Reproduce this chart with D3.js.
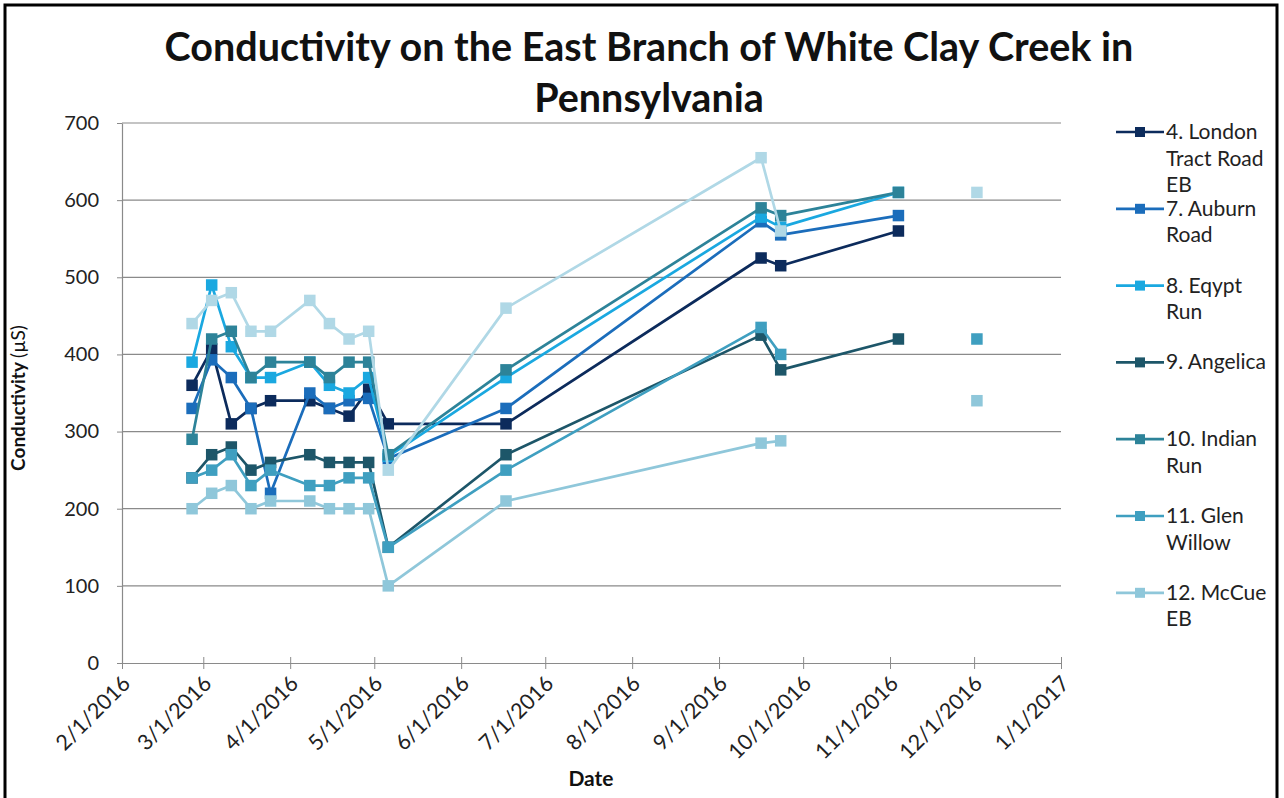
<!DOCTYPE html>
<html>
<head>
<meta charset="utf-8">
<script src="https://cdn.jsdelivr.net/npm/d3@7"></script>
<style>
  html, body { margin: 0; padding: 0; background: #fff; }
  svg { display: block; font-family: Lato, "Open Sans", sans-serif; }
</style>
</head>
<body>
<svg id="chart" width="1284" height="798"></svg>
<script>
// Sampling dates (weekly Fridays in spring, then a few later visits)
const sampleDates = ["2016-02-26", "2016-03-04", "2016-03-11", "2016-03-18", "2016-03-25",
  "2016-04-08", "2016-04-15", "2016-04-22", "2016-04-29", "2016-05-06",
  "2016-06-17", "2016-09-16", "2016-09-23", "2016-11-04", "2016-12-02"];

// Conductivity readings (µS) per site, null where the site was not sampled
const londonTract = [360, 407, 310, 330, 340, 340, 330, 320, 355, 310, 310, 525, 515, 560, null];
const auburnRoad  = [330, 393, 370, 330, 220, 350, 330, 340, 343, 265, 330, 572, 555, 580, null];
const egyptRun    = [390, 490, 410, 370, 370, 390, 360, 350, 370, 268, 370, 578, 565, 610, null];
const angelica    = [240, 270, 280, 250, 260, 270, 260, 260, 260, 150, 270, 425, 380, 420, null];
const indianRun   = [290, 420, 430, 370, 390, 390, 370, 390, 390, 270, 380, 590, 580, 610, null];
const glenWillow  = [240, 250, 270, 230, 250, 230, 230, 240, 240, 150, 250, 435, 400, null, 420];
const mccueEB     = [200, 220, 230, 200, 210, 210, 200, 200, 200, 100, 210, 285, 288, null, 340];
// eighth site: plotted, but the legend box has no room left for its entry
const eighthSite  = [440, 470, 480, 430, 430, 470, 440, 420, 430, 250, 460, 655, 560, null, 610];

const seriesValues = [londonTract, auburnRoad, egyptRun, angelica, indianRun, glenWillow, mccueEB, eighthSite];
const seriesColors = ["#0c2b5c", "#1b6dbb", "#1aa8e0", "#1d5669", "#2d8399", "#3f9fc0", "#8fc7da", "#b0d8e6"];

// Legend labels, wrapped the way the legend box wraps them
const legendLabels = [
  ["4. London", "Tract Road", "EB"],
  ["7. Auburn", "Road"],
  ["8. Eqypt", "Run"],
  ["9. Angelica"],
  ["10. Indian", "Run"],
  ["11. Glen", "Willow"],
  ["12. McCue", "EB"]
];

const yTicks = [0, 100, 200, 300, 400, 500, 600, 700];
const xTickDates = ["2016-02-01", "2016-03-01", "2016-04-01", "2016-05-01", "2016-06-01", "2016-07-01",
  "2016-08-01", "2016-09-01", "2016-10-01", "2016-11-01", "2016-12-01", "2017-01-01"];

const titleLines = ["Conductivity on the East Branch of White Clay Creek in", "Pennsylvania"];

const parse = d3.timeParse("%Y-%m-%d");
const fmt = d3.timeFormat("%-m/%-d/%Y");
const dates = sampleDates.map(parse);

const svg = d3.select("#chart");

// outer frame
svg.append("path")
  .attr("d", "M5,800 L5,5 L1277,5 L1277,800")
  .attr("fill", "none").attr("stroke", "#000").attr("stroke-width", 3);

const x = d3.scaleTime().domain([parse("2016-02-01"), parse("2017-01-01")]).range([122, 1061]);
const y = d3.scaleLinear().domain([0, 700]).range([663, 123]);

// horizontal gridlines
svg.append("g").selectAll("line").data(yTicks.filter(d => d > 0)).join("line")
  .attr("x1", x.range()[0]).attr("x2", x.range()[1])
  .attr("y1", d => y(d)).attr("y2", d => y(d))
  .attr("stroke", "#8a8a8a").attr("stroke-width", 1.2);

// y axis
const yAxis = svg.append("g").attr("transform", `translate(${x.range()[0]},0)`)
  .call(d3.axisLeft(y).tickValues(yTicks).tickSize(5).tickPadding(18).tickSizeOuter(0));
yAxis.select(".domain").attr("stroke", "#8a8a8a").attr("stroke-width", 1.2);
yAxis.selectAll(".tick line").attr("stroke", "#8a8a8a");
yAxis.selectAll(".tick text").attr("font-size", 20).attr("fill", "#222")
  .attr("font-family", "Lato, sans-serif");

// x axis
const xAxis = svg.append("g").attr("transform", `translate(0,${y(0)})`)
  .call(d3.axisBottom(x).tickValues(xTickDates.map(parse)).tickFormat(fmt).tickSize(6).tickSizeOuter(0));
xAxis.select(".domain").attr("stroke", "#8a8a8a").attr("stroke-width", 1.2);
xAxis.selectAll(".tick line").attr("stroke", "#8a8a8a").attr("y1", -6).attr("y2", 6);
xAxis.selectAll(".tick text")
  .attr("font-size", 21.5).attr("fill", "#222").attr("font-family", "Lato, sans-serif")
  .attr("text-anchor", "end")
  .attr("dy", null).attr("y", null)
  .attr("transform", "translate(9,22) rotate(-45)");

// series lines and square markers
const line = d3.line()
  .defined(d => d.v !== null)
  .x(d => x(d.date)).y(d => y(d.v));

const seriesData = seriesValues.map((vals, i) => ({
  color: seriesColors[i],
  points: vals.map((v, j) => ({ date: dates[j], v }))
}));

const plot = svg.append("g");
seriesData.forEach(s => {
  const g = plot.append("g");
  g.append("path").attr("d", line(s.points))
    .attr("fill", "none").attr("stroke", s.color).attr("stroke-width", 2.7)
    .attr("stroke-linejoin", "round");
  const ms = 11.5;
  g.selectAll("rect").data(s.points.filter(p => p.v !== null)).join("rect")
    .attr("x", p => x(p.date) - ms / 2).attr("y", p => y(p.v) - ms / 2)
    .attr("width", ms).attr("height", ms)
    .attr("fill", s.color);
});

// legend
const legend = svg.append("g");
legendLabels.forEach((lines, i) => {
  const cy = 132 + i * 76.8;
  const g = legend.append("g");
  g.append("line").attr("x1", 1116).attr("x2", 1164).attr("y1", cy).attr("y2", cy)
    .attr("stroke", seriesColors[i]).attr("stroke-width", 2.7);
  g.append("rect").attr("x", 1135).attr("y", cy - 5).attr("width", 10).attr("height", 10)
    .attr("fill", seriesColors[i]);
  const t = g.append("text").attr("x", 1166).attr("y", cy + 7)
    .attr("font-size", 21).attr("fill", "#222");
  lines.forEach((ln, k) => {
    t.append("tspan").attr("x", 1166).attr("dy", k === 0 ? 0 : 26.5).text(ln);
  });
});

// title
const title = svg.append("text").attr("text-anchor", "middle")
  .attr("font-size", 39.5).attr("font-weight", "bold").attr("fill", "#111");
titleLines.forEach((ln, k) => {
  title.append("tspan").attr("x", 649).attr("y", 61 + k * 51).text(ln);
});

// axis titles
svg.append("text").attr("x", 591).attr("y", 786).attr("text-anchor", "middle")
  .attr("font-size", 21).attr("font-weight", "bold").attr("fill", "#111").text("Date");

const yTitle = svg.append("text").attr("transform", "translate(25,398) rotate(-90)")
  .attr("text-anchor", "middle").attr("font-size", 19).attr("fill", "#111");
yTitle.append("tspan").attr("font-weight", "bold").text("Conductivity ");
yTitle.append("tspan").text("(µS)");
</script>
</body>
</html>
